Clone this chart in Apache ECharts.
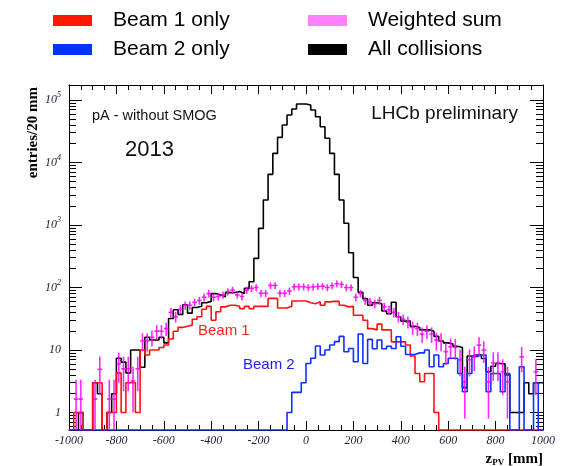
<!DOCTYPE html>
<html><head><meta charset="utf-8">
<script src="https://cdn.jsdelivr.net/npm/echarts@6/dist/echarts.min.js"></script>
<style>html,body{margin:0;padding:0;background:#fff}#c{width:562px;height:466px}</style>
</head><body><div id="c"></div>
<script>
// ---- binning (20 mm bins from -1000 to 1000 mm) ----
const binStart = -1000;
const binWidth = 20;

// ---- histogram contents, entries per 20 mm bin ----
const allCollisions = [
  0,0,1,0,0,3,2,0,1,2,
  7.4,6.4,4.3,10,10,5.3,16,14.5,14.5,16,
  13,32,44,37,53,39,48,50,57,60,
  80,76,71,83,83,86,80,97,124,293,
  885,2510,6470,14000,25300,39800,57500,71800,86300,86300,
  83200,69200,54100,37400,24400,14000,6470,2510,1065,360,
  145,84,66,52,57,55,42,38,58,34,
  29,29,24,23,21,21,20,16.5,14,13,
  12.5,11.5,11,2.5,8,8.3,8.3,7.3,4.5,5.5,
  6.1,6,4,1,1,1,3,2,3,3
];
const beam1Only = [
  0,1,1,0,0,3,3,0,1,1,
  4.3,1,3,3,1,10,8.3,10,10,11,
  12,15,20,23,24,25,31,34,45,50,
  30,41,49,52,52,50,46,50,46,50,
  50,50,67,67,47,47,50,61,61,61,
  57,55,59,52,59,60,60,52,49,50,
  36,36,30,22,21,26,21,21,13.5,13.5,
  13.5,12,8,4.2,3.1,4.2,4.2,1,0,0,
  0,0,0,0,0,0,0,0,0,0,
  0,0,0,0,0,0,0,0,0,0
];
const beam2Only = [
  0,0,0,0,0,0,0,0,0,0,
  0,0,0,0,0,0,0,0,0,0,
  0,0,0,0,0,0,0,0,0,0,
  0,0,0,0,0,0,0,0,0,0,
  0,0,0,0,0,0,1,2.1,2.1,3,
  6.1,7.4,11.6,8.3,10,12,13.6,16.5,9.4,10.6,
  6.5,18,6.1,14.8,10.5,14.5,10.5,11.5,10.6,16.3,
  11.5,8.5,8.5,9,9,10,5.4,8.3,5.4,6.1,
  7.4,7.4,4.2,2.15,4.2,7.8,8.3,8.3,2.15,4.2,
  4.2,2.15,4.2,0,0,5.4,0,0,3,0
];
const weightedSum = [
  0,1.64,1.64,0,0,1.64,4.9,0,1.64,1.64,
  6,5,5,3.2,5,14,14,16,20,20,
  22,40,34,45,52,52,58,62,70,80,
  70,72,76,86,91,76,72,91,97,100,
  81,81,108,108,81,81,88,103,103,103,
  100,102,104,105,100,107,115,112,100,100,
  70,80,62,59,55,62,49,44,40,34,
  31,28,23,22,18,20,18,14.4,14,9.4,
  11.3,11,7,3.1,7,8,12,10,3.1,6.2,
  6.2,4.5,3.1,0,0,7.8,0,0,4.5,0
];
const weightedErr = [
  0,1.7,1.7,0,0,1.7,3,0,1.7,1.7,
  3,2.8,2.8,2.2,2.8,4.5,4.5,4.6,5,5,
  5.3,7,6.5,7.5,8,8,8.5,9,10,11,
  10,10,10,11,12,10,10,12,12,13,
  11,11,13,13,11,11,12,13,13,13,
  13,13,13,13,13,13,14,14,13,13,
  10,11,9,9,8.5,9,8,7.5,7,6.5,
  6,6,5.5,5.3,5,5,5,4.5,4.5,3.6,
  4,4,3.2,2.3,3.2,3.4,4,3.8,2.3,3,
  3,2.6,2.3,0,0,3.4,0,0,2.6,0
];

// ---- axes ----
const xMin = -1000, xMax = 1000, xInterval = 200;
const yMin = 0.525, yMax = 1.74e5;
const yMajorTicks = [1, 10, 100, 1000, 10000, 100000];
const yDecades = [0.1, 1, 10, 100, 1000, 10000];
const yMinorMultipliers = [2, 3, 4, 5, 6, 7, 8, 9];

// ---- derived structures ----
const nBins = allCollisions.length;
const edges = [];
for (let i = 0; i <= nBins; i++) edges.push(binStart + i * binWidth);
function floorVal(v) { return v > 0 ? v : yMin; }
function stepData(vals) {
  const d = [];
  for (let i = 0; i < vals.length; i++) d.push([edges[i], floorVal(vals[i])]);
  d.push([edges[vals.length], floorVal(vals[vals.length - 1])]);
  return d;
}
const errData = [];
weightedSum.forEach((v, i) => { if (v > 0) errData.push([edges[i], edges[i + 1], v, weightedErr[i]]); });
const yMinorTicks = [];
yDecades.forEach(d => yMinorMultipliers.forEach(k => {
  const t = +(k * d).toPrecision(3);
  if (t > yMin && t < yMax) yMinorTicks.push(t);
}));

const serif = 'Liberation Serif', sans = 'Liberation Sans';
const labelColor = '#1c1c38';
const tickLine = { color: '#000', width: 1 };

function xAxisDef(pos, showLabel) {
  return {
    type: 'value', min: xMin, max: xMax, interval: xInterval, position: pos,
    axisLine: { show: true, onZero: false, lineStyle: { color: '#000', width: 1 } },
    axisTick: { show: true, inside: true, length: 9, lineStyle: tickLine },
    minorTick: { show: true, splitNumber: 4, length: 5, lineStyle: tickLine },
    axisLabel: { show: showLabel, margin: 5, showMinLabel: true, showMaxLabel: true,
      formatter: v => String(v), fontFamily: serif, fontStyle: 'italic', fontSize: 12, color: labelColor },
    splitLine: { show: false }, minorSplitLine: { show: false }
  };
}
function yAxisDef(pos, ticks, len, showLabel, showLine) {
  return {
    type: 'log', logBase: 10, min: yMin, max: yMax, position: pos,
    axisLine: { show: showLine, onZero: false, lineStyle: { color: '#000', width: 1 } },
    axisTick: { show: true, inside: true, length: len, customValues: ticks, lineStyle: tickLine },
    axisLabel: showLabel ? {
      show: true, margin: 8, customValues: ticks,
      formatter: v => {
        const e = Math.round(Math.log10(v));
        if (e === 0) return '{b|1}';
        if (e === 1) return '{b|10}';
        return '{b|10}{s|' + e + '}';
      },
      rich: {
        b: { fontFamily: serif, fontStyle: 'italic', fontSize: 12, color: labelColor, lineHeight: 18 },
        s: { fontFamily: serif, fontStyle: 'italic', fontSize: 8, color: labelColor, lineHeight: 9, verticalAlign: 'top' }
      }
    } : { show: false },
    splitLine: { show: false }
  };
}

function renderCross(params, api) {
  const x0 = api.value(0), x1 = api.value(1), v = api.value(2), e = api.value(3);
  const xc = (x0 + x1) / 2;
  const lo = Math.max(v - e, yMin), hi = v + e;
  const pL = api.coord([x0, v]), pR = api.coord([x1, v]);
  const pT = api.coord([xc, hi]), pB = api.coord([xc, lo]);
  const st = { stroke: '#ff00ff', lineWidth: 1.6, opacity: 0.85 };
  return { type: 'group', children: [
    { type: 'line', shape: { x1: pL[0], y1: pL[1], x2: pR[0], y2: pR[1] }, style: st },
    { type: 'line', shape: { x1: pT[0], y1: pT[1], x2: pB[0], y2: pB[1] }, style: st }
  ] };
}

const legendCommon = {
  orient: 'vertical', top: 10, padding: 0, itemWidth: 39, itemHeight: 11, itemGap: 8,
  icon: 'rect', selectedMode: false, itemStyle: { borderWidth: 0 },
  textStyle: { fontFamily: sans, fontSize: 21, color: '#000', padding: [0, 0, 0, 16], lineHeight: 21 }
};

const option = {
  animation: false,
  backgroundColor: '#fff',
  grid: { left: 69, right: 19, top: 85, bottom: 36, containLabel: false },
  legend: [
    Object.assign({}, legendCommon, { left: 53, data: ['Beam 1 only', 'Beam 2 only'] }),
    Object.assign({}, legendCommon, { left: 308, data: [{ name: 'Weighted sum', itemStyle: { color: '#ff80ff' } }, 'All collisions'] })
  ],
  xAxis: [xAxisDef('bottom', true), xAxisDef('top', false)],
  yAxis: [
    yAxisDef('left', yMajorTicks, 13, true, true),
    yAxisDef('left', yMinorTicks, 7, false, false),
    yAxisDef('right', yMajorTicks, 13, false, true),
    yAxisDef('right', yMinorTicks, 7, false, false)
  ],
  series: [
    { name: 'All collisions', type: 'line', step: 'end', data: stepData(allCollisions), symbol: 'none',
      color: '#000', lineStyle: { color: '#000', width: 1.6 }, z: 2 },
    { name: 'Beam 1 only', type: 'line', step: 'end', data: stepData(beam1Only), symbol: 'none',
      color: '#ff1a00', lineStyle: { color: '#ff1010', width: 1.6 }, z: 3 },
    { name: 'Beam 2 only', type: 'line', step: 'end', data: stepData(beam2Only), symbol: 'none',
      color: '#0033ff', lineStyle: { color: '#1030ff', width: 1.6 }, z: 4 },
    { name: 'Weighted sum', type: 'custom', renderItem: renderCross, data: errData,
      encode: { x: [0, 1], y: 2 }, itemStyle: { color: '#ff00ff' }, clip: true, z: 5 }
  ],
  graphic: [
    { type: 'text', x: 92, y: 116, style: { text: 'pA - without SMOG', fill: '#111', font: '14.5px "Liberation Sans"', verticalAlign: 'middle' } },
    { type: 'text', x: 125, y: 150, style: { text: '2013', fill: '#111', font: '22px "Liberation Sans"', verticalAlign: 'middle' } },
    { type: 'text', x: 518, y: 114, style: { text: 'LHCb preliminary', fill: '#111', font: '19px "Liberation Sans"', align: 'right', verticalAlign: 'middle' } },
    { type: 'text', x: 198, y: 331, style: { text: 'Beam 1', fill: '#ff2020', font: '15px "Liberation Sans"', verticalAlign: 'middle' } },
    { type: 'text', x: 243, y: 365, style: { text: 'Beam 2', fill: '#2020ff', font: '15px "Liberation Sans"', verticalAlign: 'middle' } },
    { type: 'text', x: 33, y: 87, rotation: Math.PI / 2, style: { text: 'entries/20 mm', fill: '#000', font: 'bold 15px "Liberation Serif"', align: 'right', verticalAlign: 'middle' } },
    { type: 'text', x: 543, y: 459, style: { text: '{a|z}{b|PV}{a| [mm]}', align: 'right', verticalAlign: 'middle',
      rich: { a: { font: 'bold 15px "Liberation Serif"', fill: '#000', lineHeight: 16 },
              b: { font: 'bold 9px "Liberation Serif"', fill: '#000', lineHeight: 9, verticalAlign: 'bottom' } } } }
  ]
};
const chart = echarts.init(document.getElementById('c'), null, { renderer: 'canvas' });
chart.setOption(option);
</script></body></html>
